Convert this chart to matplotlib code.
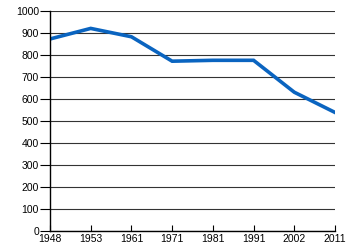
import matplotlib
matplotlib.use('Agg')
import matplotlib.pyplot as plt

years = ['1948', '1953', '1961', '1971', '1981', '1991', '2002', '2011']
values = [874, 922, 884, 773, 777, 777, 632, 540]
yticks = [0, 100, 200, 300, 400, 500, 600, 700, 800, 900, 1000]

plt.rcParams['font.family'] = ['Liberation Sans', 'DejaVu Sans']

fig = plt.figure(figsize=(3.5, 2.5), dpi=100)
ax = fig.add_axes([50 / 350, 0.075, 285 / 350, 0.88])

xs = range(len(years))
ax.plot(xs, values, color='#0a64c0', linewidth=2.6, solid_joinstyle='miter')

ax.set_xlim(0, len(years) - 1)
ax.set_ylim(0, 1000)
ax.set_xticks(list(xs))
ax.set_xticklabels(years)
ax.set_yticks(yticks)

# horizontal gridlines only
ax.yaxis.grid(True, color='#333333', linewidth=0.8)
ax.set_axisbelow(True)

for s in ['top', 'right']:
    ax.spines[s].set_visible(False)
ax.spines['left'].set_linewidth(1.0)
ax.spines['bottom'].set_linewidth(1.0)

ax.tick_params(axis='y', labelsize=7.5, length=7, width=0.8, pad=1)
ax.tick_params(axis='x', labelsize=7.5, direction='in', length=4, width=0.8, pad=2)

fig.savefig('out.png', dpi=100)
